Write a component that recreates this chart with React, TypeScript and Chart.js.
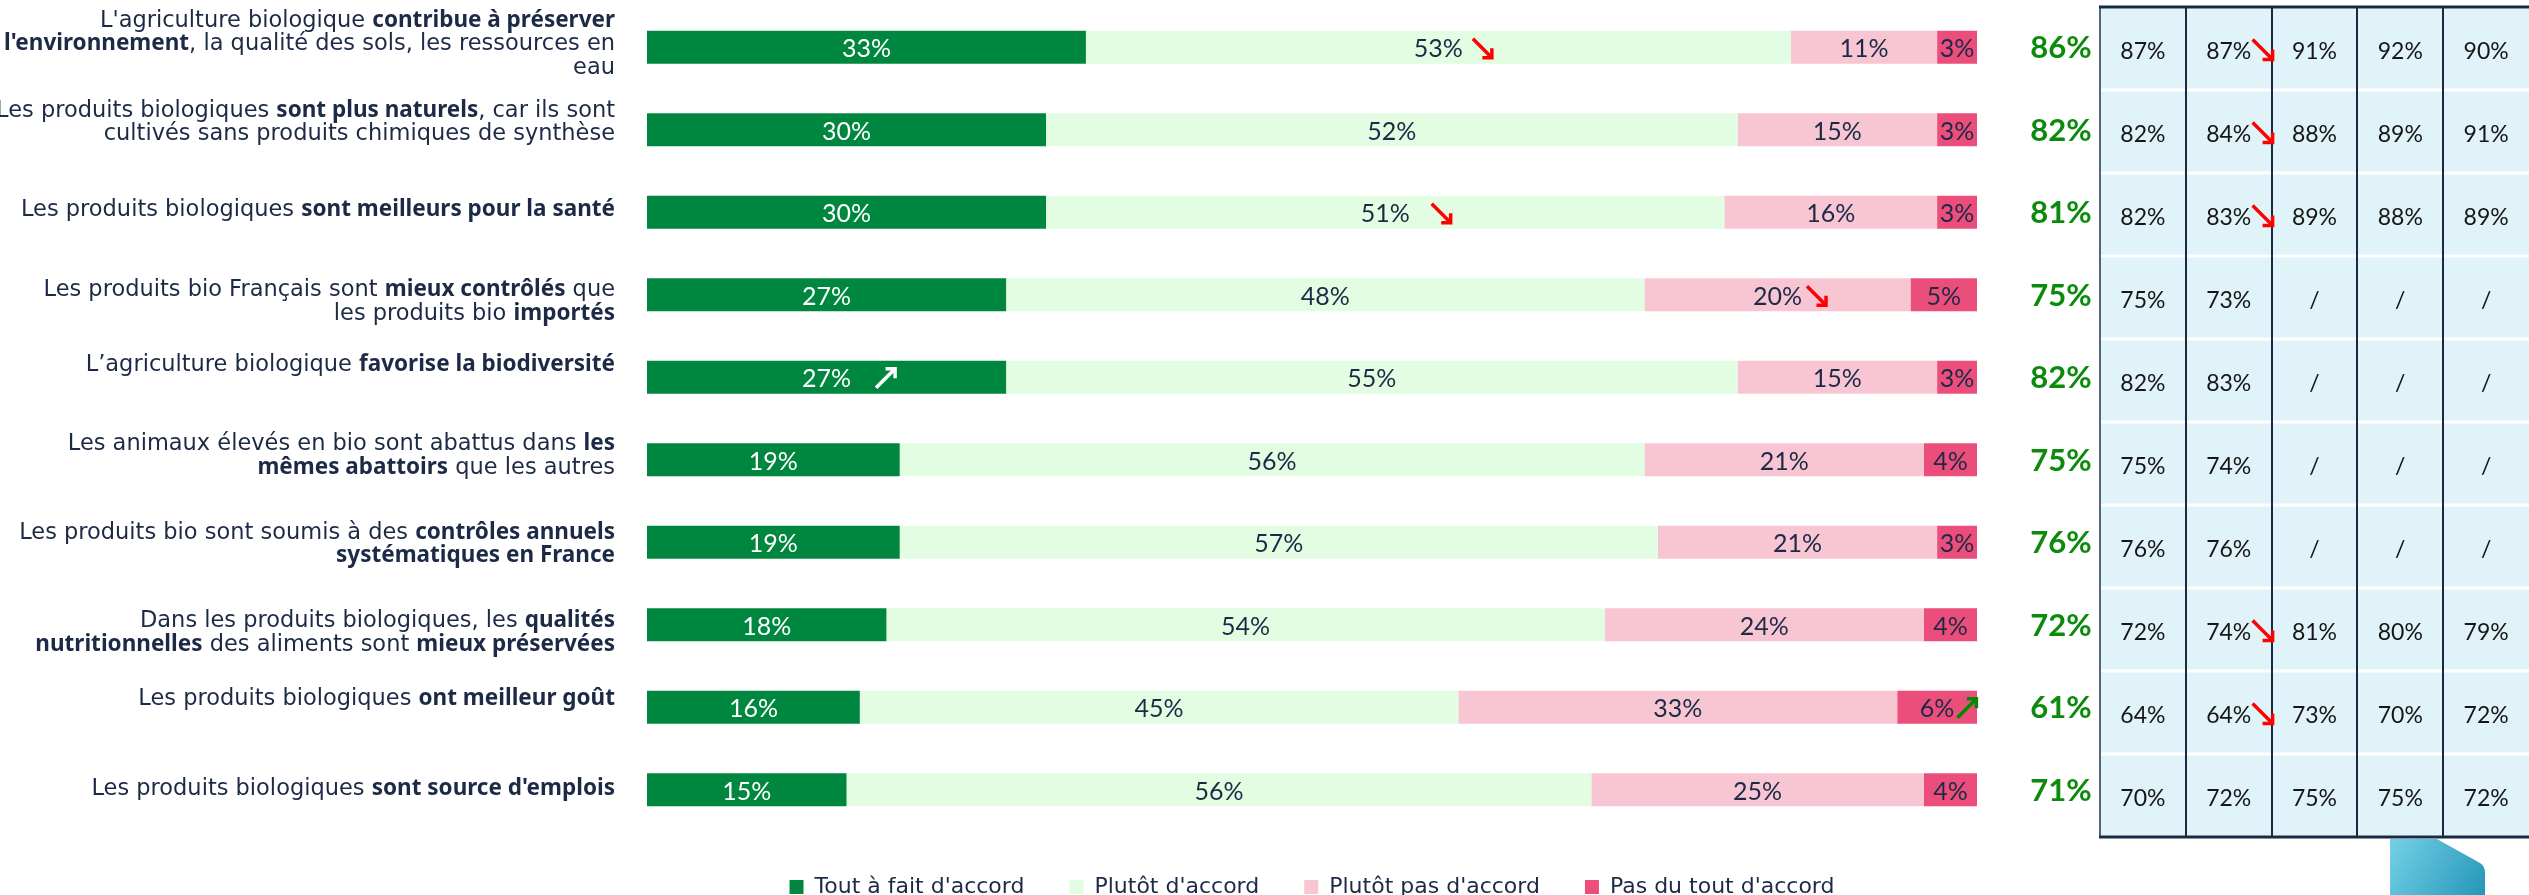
import React, { useEffect, useRef } from "react";
import { Chart, registerables } from "chart.js";

Chart.register(...registerables);

// ---------- DATA ----------
const CATEGORIES = [
  "L'agriculture biologique **contribue à préserver**|**l'environnement**, la qualité des sols, les ressources en|eau",
  "Les produits biologiques **sont plus naturels**, car ils sont|cultivés sans produits chimiques de synthèse",
  "Les produits biologiques **sont meilleurs pour la santé**",
  "Les produits bio Français sont **mieux contrôlés** que|les produits bio **importés**",
  "L’agriculture biologique **favorise la biodiversité**",
  "Les animaux élevés en bio sont abattus dans **les**|**mêmes abattoirs** que les autres",
  "Les produits bio sont soumis à des **contrôles annuels**|**systématiques en France**",
  "Dans les produits biologiques, les **qualités**|**nutritionnelles** des aliments sont **mieux préservées**",
  "Les produits biologiques **ont meilleur goût**",
  "Les produits biologiques **sont source d'emplois**",
];

const SERIES_NAMES = [
  "Tout à fait d'accord",
  "Plutôt d'accord",
  "Plutôt pas d'accord",
  "Pas du tout d'accord",
];

const TOUT_A_FAIT = [33, 30, 30, 27, 27, 19, 19, 18, 16, 15];
const PLUTOT = [53, 52, 51, 48, 55, 56, 57, 54, 45, 56];
const PLUTOT_PAS = [11, 15, 16, 20, 15, 21, 21, 24, 33, 25];
const PAS_DU_TOUT = [3, 3, 3, 5, 3, 4, 3, 4, 6, 4];

const TOTAL_ACCORD = [86, 82, 81, 75, 82, 75, 76, 72, 61, 71];

const HIST_1 = [87, 82, 82, 75, 82, 75, 76, 72, 64, 70];
const HIST_2 = [87, 84, 83, 73, 83, 74, 76, 74, 64, 72];
const HIST_3 = [91, 88, 89, null, null, null, null, 81, 73, 75];
const HIST_4 = [92, 89, 88, null, null, null, null, 80, 70, 75];
const HIST_5 = [90, 91, 89, null, null, null, null, 79, 72, 72];

// rows whose 2nd history column is followed by a "down" trend arrow
const HIST_DOWN_ROWS = [0, 1, 2, 7, 8];

// trend arrows on bar segments: [row, series, direction]
const BAR_TRENDS: [number, number, "up" | "down"][] = [
  [0, 1, "down"],
  [2, 1, "down"],
  [3, 2, "down"],
  [4, 0, "up"],
  [8, 3, "up"],
];

// ---------- STYLE ----------
const FONT = "Lato, 'Noto Sans', sans-serif";
const LABEL_FONT_NORMAL = "22.5px 'DejaVu Sans', 'Noto Sans', sans-serif";
const LABEL_FONT_BOLD = "bold 22.5px 'Noto Sans', 'DejaVu Sans', sans-serif";
const LEGEND_FONT = "'DejaVu Sans', Lato, sans-serif";
const NAVY = "#1d2a46";
const COLORS = ["#00873f", "#e3fde3", "#f8c5d3", "#ec4e7c"];
const TOTAL_GREEN = "#0b8a0b";
const TABLE_BG = "#dff3f9";
const TABLE_LINE = "#1b2a44";
const LABEL_CAP_HALF = 8.1;
const LABEL_LH = 23.3;
const LABEL_RIGHT = 615;
const LABEL_DY = [-5, -9.5, -4, 5, -14, -6, 0, 6, -10, -3];
const ARROW_GAP = [10, 22, 5, 25, 3];
const VALUE_FS = 25;
const TOTAL_FS = 31;
const TABLE_FS = 23;
const TABLE_WIDTH = 429;

function drawArrow(
  ctx: CanvasRenderingContext2D,
  x: number,
  cy: number,
  dir: "up" | "down",
  color: string,
  size = 20
) {
  const h = size * 0.5;
  ctx.save();
  ctx.strokeStyle = color;
  ctx.lineWidth = 3.5;
  ctx.lineCap = "butt";
  ctx.lineJoin = "miter";
  if (dir === "down") {
    const x0 = x, y0 = cy - size / 2, x1 = x + size, y1 = cy + size / 2;
    ctx.beginPath();
    ctx.moveTo(x0, y0);
    ctx.lineTo(x1 - 1.5, y1 - 1.5);
    ctx.stroke();
    ctx.beginPath();
    ctx.moveTo(x1, y1 - h);
    ctx.lineTo(x1, y1);
    ctx.lineTo(x1 - h, y1);
    ctx.stroke();
  } else {
    const x0 = x, y0 = cy + size / 2, x1 = x + size, y1 = cy - size / 2;
    ctx.beginPath();
    ctx.moveTo(x0, y0);
    ctx.lineTo(x1 - 1.5, y1 + 1.5);
    ctx.stroke();
    ctx.beginPath();
    ctx.moveTo(x1 - h, y1);
    ctx.lineTo(x1, y1);
    ctx.lineTo(x1, y1 + h);
    ctx.stroke();
  }
  ctx.restore();
}

const overlayPlugin = {
  id: "overlay",
  afterDatasetsDraw(chart: any) {
    const ctx: CanvasRenderingContext2D = chart.ctx;
    ctx.save();
    ctx.textAlign = "center";
    ctx.textBaseline = "alphabetic";
    ctx.font = `${VALUE_FS}px ${FONT}`;
    chart.data.datasets.forEach((ds: any, di: number) => {
      const meta = chart.getDatasetMeta(di);
      meta.data.forEach((el: any, i: number) => {
        const { x, base, y } = el.getProps(["x", "base", "y"], true);
        const cx = (x + base) / 2;
        ctx.fillStyle = di === 0 ? "#ffffff" : NAVY;
        ctx.fillText(`${ds.data[i]}%`, cx, y + 0.36 * VALUE_FS + 1);
      });
    });
    BAR_TRENDS.forEach(([row, series, dir], k) => {
      const el = chart.getDatasetMeta(series).data[row];
      const { x, base, y } = el.getProps(["x", "base", "y"], true);
      const cx = (x + base) / 2;
      const w = ctx.measureText(`${chart.data.datasets[series].data[row]}%`).width;
      const color = dir === "down" ? "#ff0000" : series === 0 ? "#ffffff" : "#008a00";
      drawArrow(ctx, cx + w / 2 + ARROW_GAP[k], y + 1, dir, color, 19);
    });
    ctx.restore();
  },
  afterDraw(chart: any) {
    const ctx: CanvasRenderingContext2D = chart.ctx;
    const yScale = chart.scales.y;
    const area = chart.chartArea;
    ctx.save();

    // ---- category labels with bold runs ----
    ctx.textBaseline = "alphabetic";
    ctx.textAlign = "left";
    ctx.fillStyle = NAVY;
    CATEGORIES.forEach((lab, i) => {
      const lines = lab.split("|");
      const cy = yScale.getPixelForValue(i) + LABEL_DY[i];
      const n = lines.length;
      lines.forEach((line, j) => {
        const capCenter = cy + (j - (n - 1) / 2) * LABEL_LH;
        const baseline = capCenter + LABEL_CAP_HALF;
        const segs = line.split("**");
        let total = 0;
        const widths = segs.map((s, si) => {
          ctx.font = si % 2 ? LABEL_FONT_BOLD : LABEL_FONT_NORMAL;
          const w = ctx.measureText(s).width;
          total += w;
          return w;
        });
        let x = LABEL_RIGHT - total;
        segs.forEach((s, si) => {
          ctx.font = si % 2 ? LABEL_FONT_BOLD : LABEL_FONT_NORMAL;
          ctx.fillText(s, x, baseline);
          x += widths[si];
        });
      });
    });

    // ---- table ----
    const tableLeft = chart.width - TABLE_WIDTH;
    const colW = TABLE_WIDTH / 5;
    const step = yScale.getPixelForValue(1) - yScale.getPixelForValue(0);
    const rowH = step + 0.5;
    const top = area.top + 1;
    const bottom = top + rowH * CATEGORIES.length;
    const hist = [HIST_1, HIST_2, HIST_3, HIST_4, HIST_5];

    ctx.fillStyle = "#ffffff";
    ctx.fillRect(tableLeft, top, TABLE_WIDTH, bottom - top);
    ctx.fillStyle = TABLE_BG;
    for (let r = 0; r < CATEGORIES.length; r++) {
      const rt = top + r * rowH;
      ctx.fillRect(tableLeft, rt + 1.5, TABLE_WIDTH, rowH - 3);
    }
    ctx.strokeStyle = TABLE_LINE;
    ctx.lineWidth = 2;
    for (let c = 1; c < 5; c++) {
      const x = Math.round(tableLeft + c * colW);
      ctx.beginPath();
      ctx.moveTo(x, top);
      ctx.lineTo(x, bottom);
      ctx.stroke();
    }
    ctx.strokeStyle = "#55647c";
    ctx.beginPath();
    ctx.moveTo(tableLeft, top);
    ctx.lineTo(tableLeft, bottom);
    ctx.stroke();
    ctx.strokeStyle = TABLE_LINE;
    ctx.lineWidth = 3;
    ctx.beginPath();
    ctx.moveTo(tableLeft - 1, top);
    ctx.lineTo(chart.width, top);
    ctx.moveTo(tableLeft - 1, bottom);
    ctx.lineTo(chart.width, bottom);
    ctx.stroke();

    ctx.textAlign = "center";
    ctx.font = `${TABLE_FS}px ${FONT}`;
    ctx.fillStyle = "#161616";
    for (let r = 0; r < CATEGORIES.length; r++) {
      const rc = top + (r + 0.5) * rowH;
      hist.forEach((col, c) => {
        const v = col[r];
        ctx.fillText(v == null ? "/" : `${v}%`, tableLeft + (c + 0.5) * colW, rc + 0.36 * TABLE_FS + 2);
      });
    }
    HIST_DOWN_ROWS.forEach((r) => {
      const rc = top + (r + 0.5) * rowH;
      drawArrow(ctx, tableLeft + 2 * colW - 19, rc + 1, "down", "#ff0000", 20);
    });

    // ---- totals ----
    ctx.font = `bold ${TOTAL_FS}px ${FONT}`;
    ctx.fillStyle = TOTAL_GREEN;
    TOTAL_ACCORD.forEach((v, i) => {
      ctx.fillText(`${v}%`, tableLeft - 39, yScale.getPixelForValue(i) + 0.36 * TOTAL_FS);
    });

    // ---- decorative shape ----
    const sx = tableLeft + 290, sy = bottom + 2;
    const g = ctx.createLinearGradient(sx, sy, sx + 95, chart.height);
    g.addColorStop(0, "#74d1e7");
    g.addColorStop(1, "#2596b8");
    ctx.fillStyle = g;
    ctx.beginPath();
    ctx.moveTo(sx, sy);
    ctx.lineTo(sx + 47, sy);
    ctx.lineTo(sx + 90, sy + 24);
    ctx.quadraticCurveTo(sx + 95, sy + 27, sx + 95, sy + 34);
    ctx.lineTo(sx + 95, chart.height);
    ctx.lineTo(sx, chart.height);
    ctx.closePath();
    ctx.fill();

    ctx.restore();
  },
};

export default function App() {
  const ref = useRef<HTMLCanvasElement>(null);
  useEffect(() => {
    document.body.style.margin = "0";
    const series = [TOUT_A_FAIT, PLUTOT, PLUTOT_PAS, PAS_DU_TOUT];
    const chart = new Chart(ref.current as HTMLCanvasElement, {
      type: "bar",
      data: {
        labels: CATEGORIES.map((c) => c.replace(/\*\*/g, "").replace(/\|/g, " ")),
        datasets: series.map((d, i) => ({
          label: SERIES_NAMES[i],
          data: d,
          backgroundColor: COLORS[i],
          borderWidth: 0,
          barPercentage: 0.4,
          categoryPercentage: 1,
        })),
      },
      options: {
        indexAxis: "y",
        responsive: false,
        animation: false,
        layout: { padding: { left: 647, right: 552, top: 6, bottom: -13 } },
        scales: {
          x: { stacked: true, min: 0, max: 100, display: false },
          y: { stacked: true, display: false },
        },
        plugins: {
          tooltip: { enabled: false },
          legend: {
            position: "bottom",
            labels: {
              boxWidth: 14,
              boxHeight: 14,
              padding: 45,
              color: NAVY,
              font: { family: LEGEND_FONT, size: 22 },
            },
          },
        },
      },
      plugins: [overlayPlugin],
    } as any);
    return () => chart.destroy();
  }, []);
  return (
    <div style={{ width: 2529, height: 895 }}>
      <canvas ref={ref} width={2529} height={895} style={{ display: "block" }} />
    </div>
  );
}
